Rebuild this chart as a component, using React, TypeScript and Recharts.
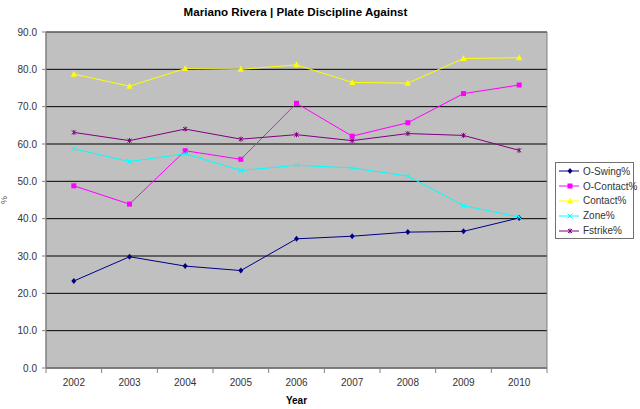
import React from "react"
import { LineChart, Line, XAxis, YAxis, CartesianGrid, ReferenceArea, Label } from "recharts"

const YEARS = ["2002", "2003", "2004", "2005", "2006", "2007", "2008", "2009", "2010"]
const O_SWING = [23.3, 29.8, 27.3, 26.1, 34.6, 35.3, 36.4, 36.6, 40.2]
const O_CONTACT = [48.8, 43.9, 58.2, 55.9, 70.9, 62.1, 65.7, 73.5, 75.8]
const CONTACT = [78.7, 75.5, 80.2, 80.0, 81.2, 76.5, 76.3, 82.9, 83.1]
const ZONE = [58.7, 55.3, 57.4, 52.9, 54.3, 53.6, 51.4, 43.5, 40.4]
const FSTRIKE = [63.1, 60.9, 64.0, 61.3, 62.5, 60.9, 62.8, 62.3, 58.3]
const Y_TICKS = [0, 10, 20, 30, 40, 50, 60, 70, 80, 90]

const FONT = "'Liberation Sans', Arial, sans-serif"
const TEXT = "#333333"

type Shape = "diamond" | "square" | "triangle" | "cross" | "star"

const SERIES: { key: string; name: string; color: string; shape: Shape }[] = [
  { key: "oSwing", name: "O-Swing%", color: "#000080", shape: "diamond" },
  { key: "oContact", name: "O-Contact%", color: "#FF00FF", shape: "square" },
  { key: "contact", name: "Contact%", color: "#FFFF00", shape: "triangle" },
  { key: "zone", name: "Zone%", color: "#00FFFF", shape: "cross" },
  { key: "fstrike", name: "Fstrike%", color: "#800080", shape: "star" },
]

const rows = YEARS.map((year, i) => ({
  year,
  idx: i,
  oSwing: O_SWING[i],
  oContact: O_CONTACT[i],
  contact: CONTACT[i],
  zone: ZONE[i],
  fstrike: FSTRIKE[i],
}))

// category centres plus the boundaries between them (tick marks sit on boundaries)
const X_TICKS = [-0.5, ...YEARS.flatMap((_, i) => [i, i + 0.5])]

function Marker({ cx, cy, shape, color }: { cx: number; cy: number; shape: Shape; color: string }) {
  switch (shape) {
    case "diamond":
      return <polygon points={`${cx},${cy - 3} ${cx + 2.5},${cy} ${cx},${cy + 3} ${cx - 2.5},${cy}`} fill={color} />
    case "square":
      return <rect x={cx - 2.5} y={cy - 2.5} width={5} height={5} fill={color} />
    case "triangle":
      return <polygon points={`${cx},${cy - 3.5} ${cx + 3},${cy + 2.5} ${cx - 3},${cy + 2.5}`} fill={color} />
    case "cross":
      return (
        <g stroke={color} strokeWidth={1}>
          <line x1={cx - 2.5} y1={cy - 2.5} x2={cx + 2.5} y2={cy + 2.5} />
          <line x1={cx - 2.5} y1={cy + 2.5} x2={cx + 2.5} y2={cy - 2.5} />
        </g>
      )
    default:
      return (
        <g stroke={color} strokeWidth={1}>
          <line x1={cx - 2} y1={cy - 2} x2={cx + 2} y2={cy + 2} />
          <line x1={cx - 2} y1={cy + 2} x2={cx + 2} y2={cy - 2} />
          <line x1={cx} y1={cy - 2.5} x2={cx} y2={cy + 2.5} />
        </g>
      )
  }
}

function YearTick(props: any) {
  const { x, y, payload } = props
  const v = payload.value
  if (Number.isInteger(v)) {
    return (
      <text x={x} y={y + 18} textAnchor="middle" fontSize={10} fill={TEXT} fontFamily={FONT}>
        {YEARS[v]}
      </text>
    )
  }
  return <line x1={x} y1={y} x2={x} y2={y + 5} stroke="#808080" />
}

function LegendBox() {
  return (
    <div
      style={{
        position: "absolute",
        left: 555,
        top: 162,
        width: 77,
        paddingTop: 1,
        border: "1px solid #707070",
        background: "#fff",
        fontFamily: FONT,
        fontSize: 10,
        color: TEXT,
      }}
    >
      {SERIES.map((s) => (
        <div key={s.key} style={{ height: 14.8, display: "flex", alignItems: "center" }}>
          <svg width={24} height={12} style={{ marginLeft: 2, flexShrink: 0 }}>
            <line x1={1} y1={6} x2={21} y2={6} stroke={s.color} strokeWidth={1} />
            <Marker cx={12} cy={6} shape={s.shape} color={s.color} />
          </svg>
          <span style={{ marginLeft: 1, whiteSpace: "nowrap" }}>{s.name}</span>
        </div>
      ))}
    </div>
  )
}

export default function App() {
  return (
    <div style={{ position: "absolute", left: 0, top: 0, width: 640, height: 409, background: "#fff" }}>
      <div
        style={{
          position: "absolute",
          left: 0,
          top: 5,
          width: 591,
          textAlign: "center",
          fontFamily: FONT,
          fontWeight: "bold",
          fontSize: 11.6,
          color: "#000",
        }}
      >
        Mariano Rivera | Plate Discipline Against
      </div>
      <LineChart width={640} height={409} data={rows} margin={{ top: 32, right: 93, bottom: 0, left: 0 }}>
        <CartesianGrid vertical={false} stroke="#000" fill="#C0C0C0" />
        <ReferenceArea x1={-0.5} x2={8.5} y1={0} y2={90} fill="none" stroke="#808080" strokeWidth={1} />
        <XAxis
          dataKey="idx"
          type="number"
          domain={[-0.5, 8.5]}
          ticks={X_TICKS}
          interval={0}
          height={41}
          tickLine={false}
          tickSize={0}
          tickMargin={0}
          tick={<YearTick />}
          axisLine={{ stroke: "#808080" }}
        >
          <Label
            value="Year"
            position="insideBottom"
            offset={5}
            style={{ fontFamily: FONT, fontSize: 10, fontWeight: "bold", fill: "#000" }}
          />
        </XAxis>
        <YAxis
          width={46}
          domain={[0, 90]}
          ticks={Y_TICKS}
          interval={0}
          tickFormatter={(v: number) => v.toFixed(1)}
          tickSize={4}
          tickMargin={5}
          tick={{ fontSize: 10, fill: TEXT, fontFamily: FONT }}
          tickLine={{ stroke: "#808080" }}
          axisLine={{ stroke: "#808080" }}
        >
          <Label
            value="%"
            angle={-90}
            position="insideLeft"
            offset={4}
            style={{ fontFamily: FONT, fontSize: 9, fill: "#555", textAnchor: "middle" }}
          />
        </YAxis>
        {SERIES.map((s) => (
          <Line
            key={s.key}
            dataKey={s.key}
            name={s.name}
            type="linear"
            stroke={s.color}
            strokeWidth={1}
            isAnimationActive={false}
            dot={(p: any) => <Marker key={`${s.key}-${p.index}`} cx={p.cx} cy={p.cy} shape={s.shape} color={s.color} />}
            activeDot={false}
          />
        ))}
      </LineChart>
      <LegendBox />
    </div>
  )
}
